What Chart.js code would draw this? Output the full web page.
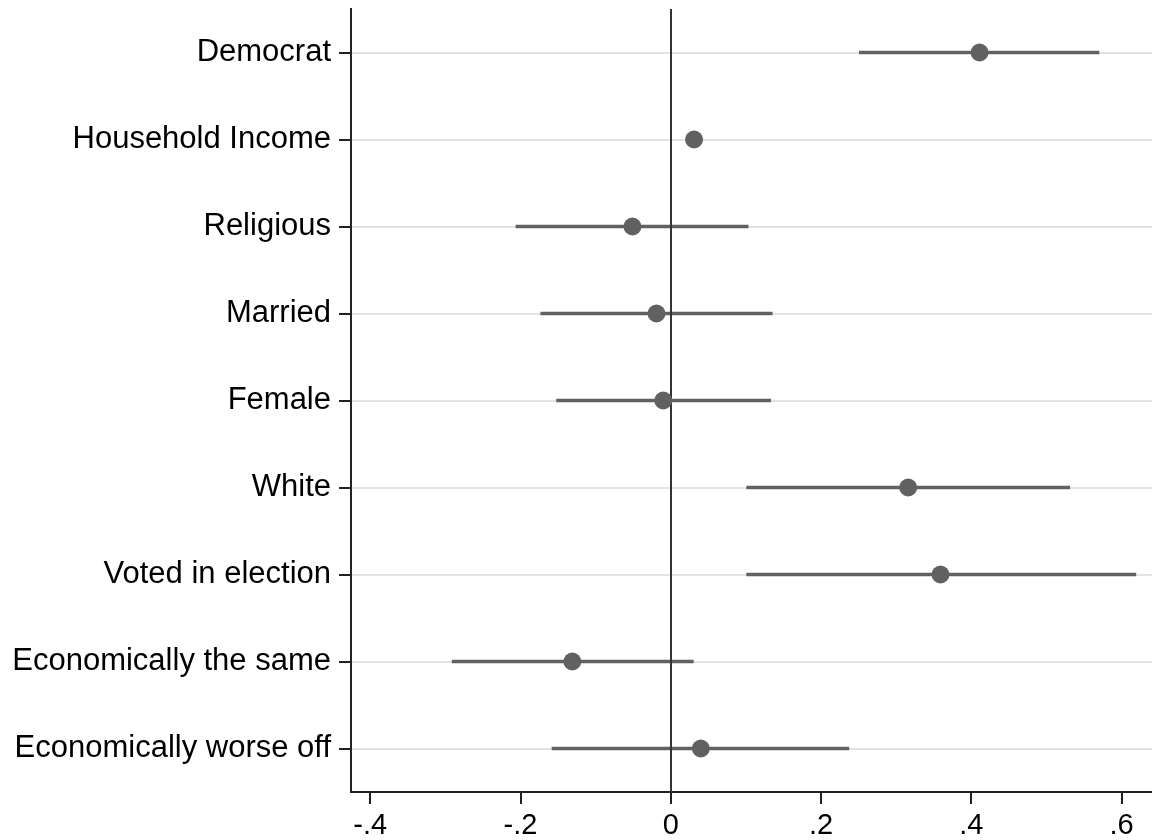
<!DOCTYPE html>
<html>
<head>
<meta charset="utf-8">
<script src="https://cdn.jsdelivr.net/npm/chart.js@4/dist/chart.umd.min.js"></script>
<style>
  html, body { margin: 0; padding: 0; background: #ffffff; }
  #wrap { width: 1152px; height: 840px; }
</style>
</head>
<body>
<div id="wrap"><canvas id="coefplot" width="1152" height="840"></canvas></div>
<script>
// Regression coefficients with 95% confidence intervals
const categories = [
  'Democrat',
  'Household Income',
  'Religious',
  'Married',
  'Female',
  'White',
  'Voted in election',
  'Economically the same',
  'Economically worse off'
];
const estimates = [0.411, 0.031, -0.051, -0.019, -0.010, 0.316, 0.359, -0.131, 0.040];
const lowerCI   = [0.251, 0.022, -0.206, -0.173, -0.152, 0.101, 0.101, -0.291, -0.158];
const upperCI   = [0.570, 0.040,  0.103,  0.135,  0.133, 0.531, 0.619,  0.030,  0.237];

const xTickValues = [-0.4, -0.2, 0, 0.2, 0.4, 0.6];
const xTickLabels = ['-.4', '-.2', '0', '.2', '.4', '.6'];
const referenceValue = 0;

const FONT = "'Liberation Sans', Arial, Helvetica, sans-serif";
const MARK = '#616161';

const ciData = categories.map((c, i) => [lowerCI[i], upperCI[i]]);
const pointData = categories.map((c, i) => ({ x: estimates[i], y: c }));

// Vertical reference line at zero, drawn over the interval bars and under the markers
const zeroLine = {
  id: 'zeroLine',
  afterDatasetDraw(chart, args) {
    if (args.index !== 0) return;
    const { ctx, chartArea, scales } = chart;
    const x = Math.round(scales.x.getPixelForValue(referenceValue));
    ctx.save();
    ctx.strokeStyle = '#333333';
    ctx.lineWidth = 2;
    ctx.beginPath();
    ctx.moveTo(x, chartArea.top);
    ctx.lineTo(x, chartArea.bottom);
    ctx.stroke();
    ctx.restore();
  }
};

new Chart(document.getElementById('coefplot'), {
  data: {
    labels: categories,
    datasets: [
      {
        type: 'bar',
        indexAxis: 'y',
        data: ciData,
        backgroundColor: MARK,
        borderWidth: 0,
        barThickness: 3,
        order: 2
      },
      {
        type: 'line',
        indexAxis: 'y',
        data: pointData,
        showLine: false,
        pointRadius: 9,
        pointHoverRadius: 9,
        pointBackgroundColor: MARK,
        pointBorderWidth: 0,
        order: 1
      }
    ]
  },
  plugins: [zeroLine],
  options: {
    responsive: false,
    devicePixelRatio: 1,
    animation: false,
    layout: { autoPadding: false, padding: { top: 9, right: 0, bottom: 0, left: 0 } },
    plugins: {
      legend: { display: false },
      tooltip: { enabled: false }
    },
    scales: {
      x: {
        type: 'linear',
        position: 'bottom',
        min: -0.4256,
        max: 0.6405,
        afterBuildTicks: (scale) => {
          scale.ticks = xTickValues.map(v => ({ value: v }));
        },
        afterFit: (scale) => {
          scale.height = 48;
          scale.paddingLeft = 0;
          scale.paddingRight = 0;
        },
        ticks: {
          padding: 5,
          maxRotation: 0,
          autoSkip: false,
          color: '#000000',
          font: { family: FONT, size: 29 },
          callback: (value) => {
            const i = xTickValues.findIndex(v => Math.abs(v - value) < 1e-9);
            return i >= 0 ? xTickLabels[i] : '';
          }
        },
        grid: {
          drawOnChartArea: false,
          lineWidth: 2,
          tickLength: 12,
          tickColor: '#222222',
          tickWidth: 2
        },
        border: { display: true, color: '#222222', width: 2 }
      },
      y: {
        type: 'category',
        labels: categories,
        offset: true,
        afterFit: (scale) => {
          scale.width = 351;
          scale.paddingTop = 0;
          scale.paddingBottom = 0;
        },
        ticks: {
          padding: 8,
          color: '#000000',
          font: { family: FONT, size: 31 }
        },
        grid: {
          offset: false,
          color: '#e3e3e3',
          lineWidth: 2,
          tickLength: 12,
          tickColor: '#222222',
          tickWidth: 2
        },
        border: { display: true, color: '#222222', width: 2 }
      }
    }
  }
});
</script>
</body>
</html>
